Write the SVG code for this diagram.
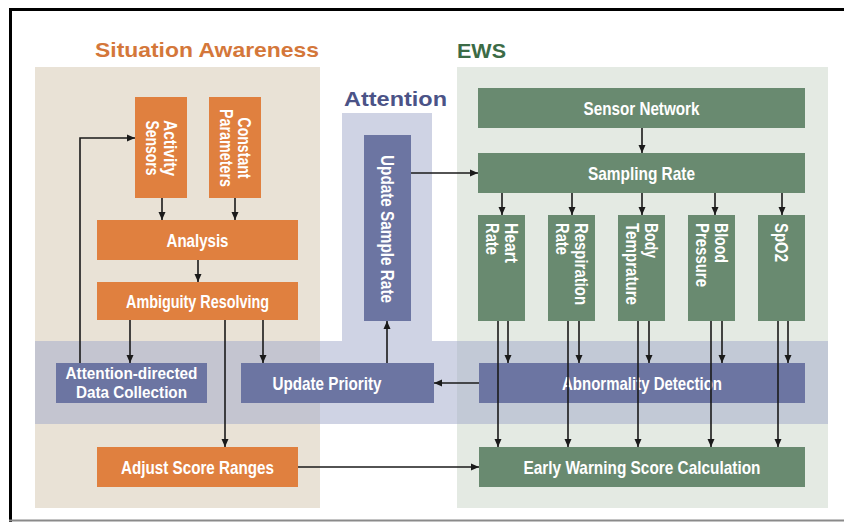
<svg xmlns="http://www.w3.org/2000/svg" width="844" height="523" viewBox="0 0 844 523">
<defs>
<marker id="ah" markerUnits="userSpaceOnUse" markerWidth="8" markerHeight="8" viewBox="0 0 8 8" refX="8" refY="4" orient="auto">
<path d="M0,0.5 L8,4 L0,7.5 Z" fill="#1a1a1a"/>
</marker>
<style>
.t{font-family:"Liberation Sans",Arial,sans-serif;font-weight:bold;}
.lbl{font-size:18.5px;fill:#ffffff;}
.sm{font-size:16.5px;}
.or{fill:#e0803f;}
.gr{fill:#698a70;}
.bl{fill:#6c75a2;}
.cn{fill:none;stroke:#1a1a1a;stroke-width:1.6;marker-end:url(#ah);}
</style>
</defs>
<rect x="0" y="0" width="844" height="523" fill="#ffffff"/>
<g id="panels">
<rect x="35" y="67" width="285" height="441" fill="#e9e2d6"/>
<rect x="457" y="67" width="371" height="441" fill="#e4eae3"/>
<rect x="342" y="113" width="90" height="228" fill="#cfd3e4"/>
<rect x="35" y="341" width="793" height="83" fill="#9fa7c9" fill-opacity="0.5"/>
</g>
<g id="titles" class="t">
<text x="95" y="57" font-size="21" fill="#d4773a" textLength="224" lengthAdjust="spacingAndGlyphs">Situation Awareness</text>
<text x="457" y="58" font-size="21" fill="#3c6b46" textLength="49" lengthAdjust="spacingAndGlyphs">EWS</text>
<text x="344" y="106" font-size="21" fill="#4b5387" textLength="103" lengthAdjust="spacingAndGlyphs">Attention</text>
</g>
<g id="activity-sensors">
<rect class="or" x="135" y="97" width="52" height="101"/>
<g transform="translate(161,148) rotate(90)"><text class="t lbl" x="0" y="-3" text-anchor="middle" textLength="56" lengthAdjust="spacingAndGlyphs">Activity</text><text class="t lbl" x="0" y="15.5" text-anchor="middle" textLength="55" lengthAdjust="spacingAndGlyphs">Sensors</text></g>
</g>
<g id="constant-parameters">
<rect class="or" x="209" y="97" width="52" height="101"/>
<g transform="translate(235,148) rotate(90)"><text class="t lbl" x="0" y="-3" text-anchor="middle" textLength="61" lengthAdjust="spacingAndGlyphs">Constant</text><text class="t lbl" x="0" y="15.5" text-anchor="middle" textLength="78" lengthAdjust="spacingAndGlyphs">Parameters</text></g>
</g>
<g id="analysis">
<rect class="or" x="97" y="220" width="201" height="40"/>
<text class="t lbl" x="197.5" y="246.5" text-anchor="middle" textLength="62" lengthAdjust="spacingAndGlyphs">Analysis</text>
</g>
<g id="ambiguity-resolving">
<rect class="or" x="97" y="282" width="201" height="38"/>
<text class="t lbl" x="197.5" y="307.5" text-anchor="middle" textLength="143" lengthAdjust="spacingAndGlyphs">Ambiguity Resolving</text>
</g>
<g id="adjust-score-ranges">
<rect class="or" x="97" y="447" width="201" height="40"/>
<text class="t lbl" x="197.5" y="473.5" text-anchor="middle" textLength="153" lengthAdjust="spacingAndGlyphs">Adjust Score Ranges</text>
</g>
<g id="attention-directed">
<rect class="bl" x="56" y="363" width="151" height="40"/>
<text class="t lbl sm" x="131.5" y="379" text-anchor="middle" textLength="132" lengthAdjust="spacingAndGlyphs">Attention-directed</text>
<text class="t lbl sm" x="131.5" y="398" text-anchor="middle" textLength="111" lengthAdjust="spacingAndGlyphs">Data Collection</text>
</g>
<g id="update-priority">
<rect class="bl" x="241" y="363" width="193" height="40"/>
<text class="t lbl" x="327" y="390" text-anchor="middle" textLength="109" lengthAdjust="spacingAndGlyphs">Update Priority</text>
</g>
<g id="update-sample-rate">
<rect class="bl" x="364" y="135" width="47" height="186"/>
<g transform="translate(387.5,229) rotate(90)"><text class="t lbl" x="0" y="6.5" text-anchor="middle" textLength="148" lengthAdjust="spacingAndGlyphs">Update Sample Rate</text></g>
</g>
<g id="abnormality-detection">
<rect class="bl" x="479" y="363" width="326" height="40"/>
<text class="t lbl" x="642" y="390" text-anchor="middle" textLength="160" lengthAdjust="spacingAndGlyphs">Abnormality Detection</text>
</g>
<g id="sensor-network">
<rect class="gr" x="478" y="88" width="327" height="40"/>
<text class="t lbl" x="641.5" y="114.5" text-anchor="middle" textLength="116" lengthAdjust="spacingAndGlyphs">Sensor Network</text>
</g>
<g id="sampling-rate">
<rect class="gr" x="478" y="153" width="327" height="40"/>
<text class="t lbl" x="641.5" y="179.5" text-anchor="middle" textLength="107" lengthAdjust="spacingAndGlyphs">Sampling Rate</text>
</g>
<g id="heart-rate">
<rect class="gr" x="478" y="215" width="47" height="106"/>
<g transform="translate(501.5,223) rotate(90)"><text class="t lbl" x="0" y="-3" textLength="40" lengthAdjust="spacingAndGlyphs">Heart</text><text class="t lbl" x="0" y="15.5" textLength="32" lengthAdjust="spacingAndGlyphs">Rate</text></g>
</g>
<g id="respiration-rate">
<rect class="gr" x="548" y="215" width="47" height="106"/>
<g transform="translate(571.5,223) rotate(90)"><text class="t lbl" x="0" y="-3" textLength="82" lengthAdjust="spacingAndGlyphs">Respiration</text><text class="t lbl" x="0" y="15.5" textLength="32" lengthAdjust="spacingAndGlyphs">Rate</text></g>
</g>
<g id="body-temprature">
<rect class="gr" x="618" y="215" width="47" height="106"/>
<g transform="translate(641.5,223) rotate(90)"><text class="t lbl" x="0" y="-3" textLength="35" lengthAdjust="spacingAndGlyphs">Body</text><text class="t lbl" x="0" y="15.5" textLength="82" lengthAdjust="spacingAndGlyphs">Temprature</text></g>
</g>
<g id="blood-pressure">
<rect class="gr" x="688" y="215" width="47" height="106"/>
<g transform="translate(711.5,223) rotate(90)"><text class="t lbl" x="0" y="-3" textLength="40" lengthAdjust="spacingAndGlyphs">Blood</text><text class="t lbl" x="0" y="15.5" textLength="64" lengthAdjust="spacingAndGlyphs">Pressure</text></g>
</g>
<g id="spo2">
<rect class="gr" x="758" y="215" width="47" height="106"/>
<g transform="translate(781.5,223) rotate(90)"><text class="t lbl" x="0" y="6.5" textLength="39" lengthAdjust="spacingAndGlyphs">SpO2</text></g>
</g>
<g id="ews-calculation">
<rect class="gr" x="479" y="447" width="326" height="40"/>
<text class="t lbl" x="642" y="473.5" text-anchor="middle" textLength="237" lengthAdjust="spacingAndGlyphs">Early Warning Score Calculation</text>
</g>
<g id="connectors">
<path class="cn" d="M642,128 V153"/>
<path class="cn" d="M502,193 V215"/>
<path class="cn" d="M572,193 V215"/>
<path class="cn" d="M642,193 V215"/>
<path class="cn" d="M715,193 V215"/>
<path class="cn" d="M782,193 V215"/>
<path class="cn" d="M411,173 H478"/>
<path class="cn" d="M508,321 V363"/>
<path class="cn" d="M579,321 V363"/>
<path class="cn" d="M649,321 V363"/>
<path class="cn" d="M722,321 V363"/>
<path class="cn" d="M788,321 V363"/>
<path class="cn" d="M498,321 V447"/>
<path class="cn" d="M568,321 V447"/>
<path class="cn" d="M638,321 V447"/>
<path class="cn" d="M711,321 V447"/>
<path class="cn" d="M778,321 V447"/>
<path class="cn" d="M479,383 H434"/>
<path class="cn" d="M387,363 V321"/>
<path class="cn" d="M130,320 V363"/>
<path class="cn" d="M263,320 V363"/>
<path class="cn" d="M225,320 V447"/>
<path class="cn" d="M80,363 V138 H135"/>
<path class="cn" d="M162,198 V220"/>
<path class="cn" d="M235,198 V220"/>
<path class="cn" d="M198,260 V282"/>
<path class="cn" d="M298,467 H479"/>
</g>
<g id="frame">
<path d="M10.5,522 V9.5 H844" fill="none" stroke="#000000" stroke-width="3"/>
<path d="M9,520.5 H844" fill="none" stroke="#8a8a8a" stroke-width="2"/>
</g>
</svg>
